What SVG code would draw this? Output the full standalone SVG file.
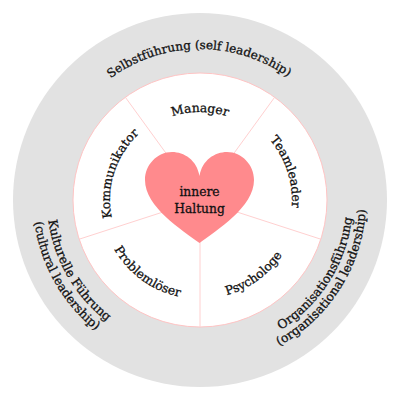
<svg xmlns="http://www.w3.org/2000/svg" width="400" height="400" viewBox="0 0 400 400">
<style>
text{font-family:"DejaVu Serif","Liberation Serif",serif;font-size:12.3px;fill:#111;stroke:#111;stroke-width:.3px}
.spoke{stroke:#ffd0d0;stroke-width:1;fill:none}
.sm{font-size:12px}
</style>
<defs>
<path id="aTop" d="M49 200a151 151 0 0 1 302 0"/>
<path id="aIn" d="M112 200a88 88 0 0 1 176 0"/>
<path id="aTeam" d="M200 108a92 92 0 0 1 0 184a92 92 0 0 1 0 -184"/>
<path id="aKomm" d="M200 290a90 90 0 0 1 0 -180a90 90 0 0 1 0 180"/>
<path id="aProb" d="M101 200a99 99 0 0 0 198 0"/>
<path id="aOrg1" d="M47 200a153 153 0 0 0 306 0"/>
<path id="aOrg2" d="M34 200a166 166 0 0 0 332 0"/>
<path id="aKul1" d="M200 47a153 153 0 0 0 0 306"/>
<path id="aKul2" d="M200 33a167 167 0 0 0 0 334"/>
</defs>
<g id="outer-ring"><circle cx="200" cy="200" r="187" fill="#e2e2e2"/>
<text class="sm"><textPath href="#aTop" startOffset="49.800%" text-anchor="middle">Selbstführung (self leadership)</textPath></text></g>
<g id="inner-disc"><circle cx="200" cy="200" r="127" fill="#fff" stroke="#ffc4c4" stroke-width="1"/></g>
<g id="connectors">
<line class="spoke" x1="200" y1="200" x2="274.6" y2="97.3"/>
<line class="spoke" x1="200" y1="200" x2="320.8" y2="239.2"/>
<line class="spoke" x1="200" y1="200" x2="200" y2="327"/>
<line class="spoke" x1="200" y1="200" x2="79.2" y2="239.2"/>
<line class="spoke" x1="200" y1="200" x2="125.4" y2="97.3"/>
</g>
<g id="manager"><text><textPath href="#aIn" startOffset="50%" text-anchor="middle">Manager</textPath></text></g>
<g id="teamleader"><text><textPath href="#aTeam" startOffset="20%" text-anchor="middle">Teamleader</textPath></text></g>
<g id="kommunikator"><text><textPath href="#aKomm" startOffset="30%" text-anchor="middle">Kommunikator</textPath></text></g>
<g id="problemloeser"><text><textPath href="#aProb" startOffset="30%" text-anchor="middle">Problemlöser</textPath></text></g>
<g id="psychologe"><text><textPath href="#aProb" startOffset="70%" text-anchor="middle">Psychologe</textPath></text></g>
<g id="organisation"><text><textPath href="#aOrg1" startOffset="82%" text-anchor="middle">Organisationsführung</textPath></text>
<text><textPath href="#aOrg2" startOffset="82%" text-anchor="middle">(organisational leadership)</textPath></text></g>
<g id="kultur"><text><textPath href="#aKul1" startOffset="66.700%" text-anchor="middle">Kulturelle Führung</textPath></text>
<text><textPath href="#aKul2" startOffset="66.400%" text-anchor="middle">(cultural leadership)</textPath></text></g>
<g id="heart"><path d="M199.500 176C197 160 184 152 172 152C157 152 145 165 145 180C145 207 182 230 199.500 243C217 230 254 207 254 180C254 165 242 152 227 152C215 152 202 160 199.500 176Z" fill="#ff8a8d"/>
<text x="199.500" y="196" text-anchor="middle">innere</text><text x="199.500" y="213" text-anchor="middle">Haltung</text></g>
</svg>
